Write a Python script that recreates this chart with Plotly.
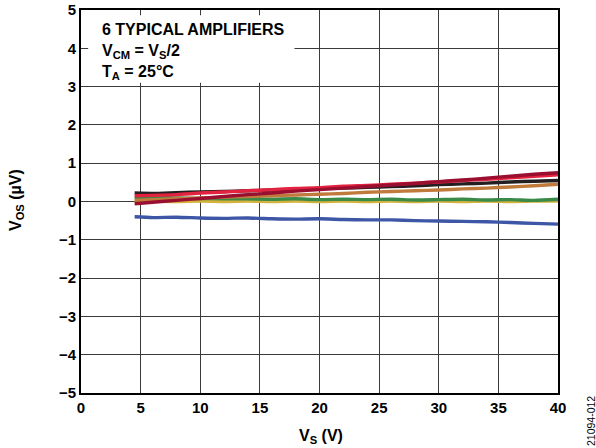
import plotly.graph_objects as go

vs = [4.5, 6, 8, 10, 12, 14, 16, 18, 20, 22, 24, 26, 28, 30, 32, 34, 36, 38, 40]

yellow = [0.01, 0.01, 0.00, 0.01, 0.00, 0.01, 0.00, 0.01, 0.00, 0.01, 0.00, 0.01, 0.00, 0.01, 0.00, 0.01, 0.00, 0.01, 0.01]
green = [0.10, 0.11, 0.09, 0.08, 0.07, 0.07, 0.06, 0.07, 0.05, 0.06, 0.05, 0.06, 0.04, 0.05, 0.06, 0.04, 0.05, 0.03, 0.06]
blue = [-0.40, -0.42, -0.41, -0.43, -0.44, -0.43, -0.45, -0.46, -0.45, -0.47, -0.48, -0.48, -0.50, -0.51, -0.52, -0.53, -0.55, -0.57, -0.59]
orange = [0.03, 0.05, 0.07, 0.09, 0.11, 0.13, 0.15, 0.17, 0.19, 0.21, 0.24, 0.26, 0.28, 0.30, 0.33, 0.35, 0.38, 0.41, 0.45]
black = [0.22, 0.21, 0.23, 0.25, 0.26, 0.28, 0.30, 0.31, 0.34, 0.35, 0.37, 0.39, 0.41, 0.44, 0.46, 0.48, 0.51, 0.53, 0.55]
red = [0.15, 0.16, 0.18, 0.22, 0.25, 0.28, 0.31, 0.34, 0.36, 0.40, 0.42, 0.45, 0.48, 0.51, 0.55, 0.58, 0.62, 0.66, 0.70]
darkred = [-0.06, -0.02, 0.03, 0.08, 0.13, 0.18, 0.22, 0.27, 0.31, 0.35, 0.39, 0.43, 0.47, 0.52, 0.56, 0.61, 0.66, 0.71, 0.75]

series = [
    ("yellow", yellow, "#d4b23c"),
    ("green", green, "#3a8a48"),
    ("blue", blue, "#3d56a6"),
    ("orange", orange, "#c07a3c"),
    ("black", black, "#231f20"),
    ("red", red, "#e3223f"),
    ("darkred", darkred, "#9a0f30"),
]

x_ticks = [0, 5, 10, 15, 20, 25, 30, 35, 40]
y_ticks = [-5, -4, -3, -2, -1, 0, 1, 2, 3, 4, 5]
y_labels = ["\u22125", "\u22124", "\u22123", "\u22122", "\u22121", "0", "1", "2", "3", "4", "5"]

fig = go.Figure()
for name, ys, col in series:
    fig.add_trace(go.Scatter(x=vs, y=ys, mode="lines", name=name,
                             line=dict(color=col, width=3.4, shape="spline", smoothing=0.6),
                             showlegend=False))

font = "Liberation Sans, Arial, sans-serif"
L, R, T, B = 81, 38, 10, 55
PW, PH = 596 - L - R, 448 - T - B

def px(xp):
    return (xp - L) / PW

def py(yp):
    return (448 - B - yp) / PH

fig.update_layout(
    width=596, height=448,
    margin=dict(l=L, r=R, t=T, b=B),
    paper_bgcolor="white", plot_bgcolor="white",
    font=dict(family=font, color="black", size=15),
    xaxis=dict(range=[0, 40], tickvals=x_ticks, ticktext=[f"<b>{t}</b>" for t in x_ticks],
               showgrid=True, gridcolor="#3a3a3a", gridwidth=1.3, automargin=False,
               showline=True, linecolor="black", linewidth=2, mirror=True,
               ticks="", zeroline=False, tickfont=dict(size=15)),
    yaxis=dict(range=[-5, 5], tickvals=y_ticks, ticktext=[f"<b>{t}</b>" for t in y_labels],
               showgrid=True, gridcolor="#3a3a3a", gridwidth=1.3, automargin=False,
               showline=True, linecolor="black", linewidth=2, mirror=True,
               ticks="", zeroline=False, tickfont=dict(size=15)),
)

fig.add_shape(type="rect", xref="x", yref="y", x0=0.6, x1=17.9, y0=3.1, y1=4.86,
              fillcolor="white", line=dict(width=0), layer="between")

fig.add_annotation(xref="paper", yref="paper", x=px(100), y=py(19),
                   xanchor="left", yanchor="top", align="left", showarrow=False,
                   text="<b>6 TYPICAL AMPLIFIERS<br>V<sub>CM</sub> = V<sub>S</sub>/2<br>T<sub>A</sub> = 25\u00b0C</b>",
                   font=dict(size=16, family=font))

fig.add_annotation(xref="paper", yref="paper", x=px(321), y=py(436),
                   xanchor="center", yanchor="middle", showarrow=False,
                   text="<b>V<sub>S</sub> (V)</b>", font=dict(size=16, family=font))

fig.add_annotation(xref="paper", yref="paper", x=px(16), y=py(200),
                   xanchor="center", yanchor="middle", showarrow=False, textangle=-90,
                   text="<b>V<sub>OS</sub> (\u00b5V)</b>", font=dict(size=16, family=font))

fig.add_annotation(xref="paper", yref="paper", x=px(591), y=py(421),
                   xanchor="center", yanchor="middle", showarrow=False, textangle=-90,
                   text="21094-012", font=dict(size=10.5, family=font))

fig.write_html("out.html")
